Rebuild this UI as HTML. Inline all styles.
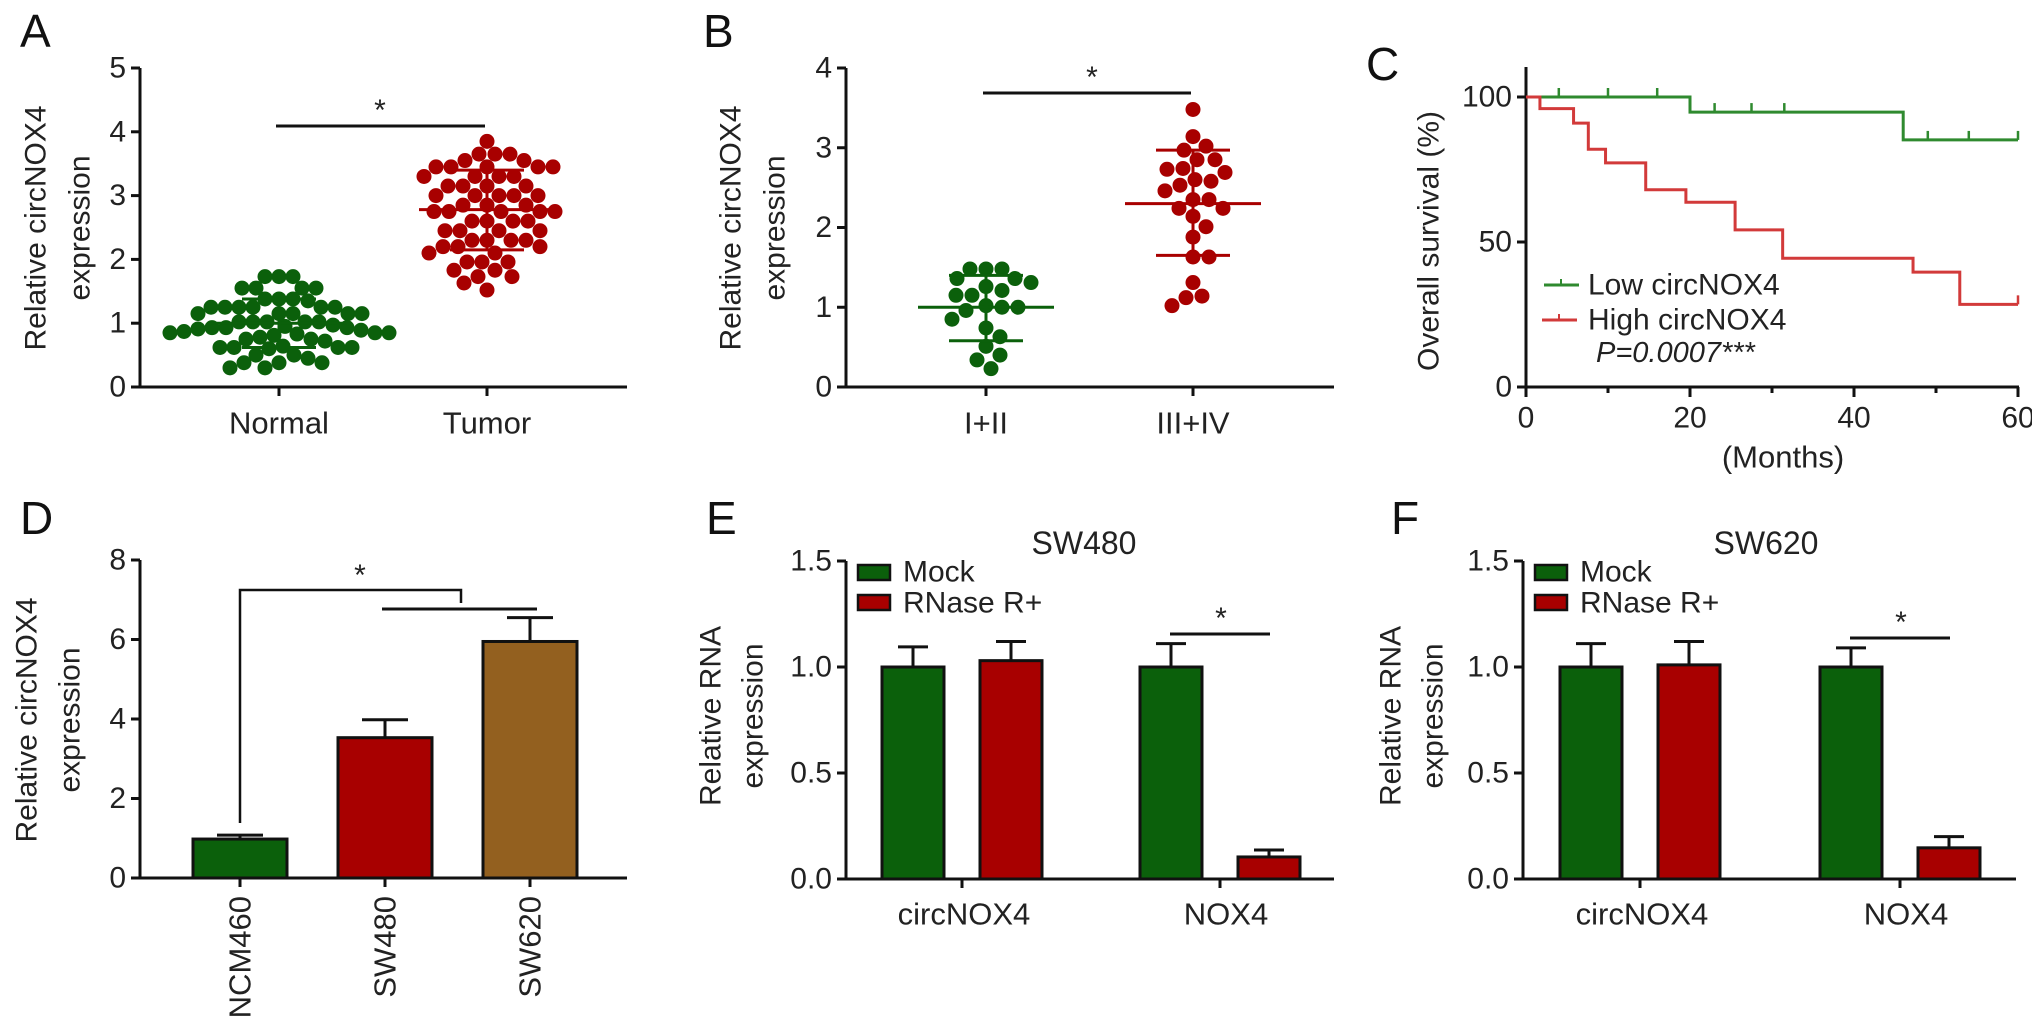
<!DOCTYPE html>
<html><head><meta charset="utf-8">
<style>
html,body{margin:0;padding:0;background:#fff;}
svg{display:block;font-family:"Liberation Sans",Arial,sans-serif;}
</style></head>
<body>
<svg id="fig" width="2032" height="1035" viewBox="0 0 2032 1035" xmlns="http://www.w3.org/2000/svg"></svg>
<script>
// ---------- data ----------
const aCategories = ["Normal", "Tumor"];
const aNormalValues = [1.73,1.73,1.73,1.55,1.55,1.55,1.55,1.38,1.38,1.38,1.35,1.25,1.25,1.25,1.25,1.25,1.25,1.15,1.15,1.15,1.15,1.15,1.02,1.02,1.02,1.02,1.02,0.93,0.95,0.91,0.93,0.89,0.97,0.93,0.85,0.83,0.87,0.85,0.81,0.85,0.75,0.78,0.72,0.75,0.62,0.62,0.64,0.6,0.62,0.62,0.5,0.45,0.5,0.38,0.38,0.38,0.3,0.3];
const aTumorValues = [3.85,3.65,3.65,3.65,3.55,3.55,3.45,3.45,3.45,3.45,3.45,3.3,3.3,3.3,3.3,3.15,3.15,3.15,3.15,3.0,3.0,3.0,3.0,3.0,2.85,2.85,2.85,2.75,2.75,2.75,2.75,2.75,2.6,2.6,2.6,2.6,2.45,2.45,2.45,2.45,2.3,2.3,2.3,2.3,2.2,2.2,2.2,2.1,2.1,1.96,1.96,1.96,1.83,1.83,1.73,1.73,1.63,1.52];
const aMeans = [1.0, 2.78];
const aSdLow = [0.62, 2.15];
const aSdHigh = [1.38, 3.4];
const aTicks = [0,1,2,3,4,5];

const bCategories = ["I+II", "III+IV"];
const bEarlyValues = [1.48,1.48,1.48,1.36,1.36,1.31,1.26,1.21,1.15,1.15,1.02,1.0,1.0,0.96,0.85,0.74,0.63,0.51,0.40,0.34,0.23];
const bLateValues = [3.48,3.14,3.02,2.97,2.85,2.85,2.74,2.73,2.69,2.6,2.58,2.53,2.46,2.35,2.35,2.24,2.24,2.14,2.01,1.88,1.63,1.63,1.31,1.14,1.12,1.02];
const bMeans = [1.0, 2.3];
const bSdLow = [0.58, 1.65];
const bSdHigh = [1.4, 2.97];
const bTicks = [0,1,2,3,4];

const cLowTimes = [0,20,46,60];
const cLowSurv = [100,94.8,85.2,85.2];
const cLowCensor = [4,10,16,23,27.5,31.5,49,54,60];
const cHighTimes = [0,1.7,5.8,7.6,9.7,14.6,19.5,25.5,31.3,47.2,52.9,60];
const cHighSurv = [100,96,91,82,77.3,68,63.7,54.2,44.4,39.6,28.5,28.5];
const cHighCensor = [60];
const cXTicks = [0,20,40,60];
const cXMinor = [10,30,50];
const cYTicks = [0,50,100];

const dCategories = ["NCM460","SW480","SW620"];
const dValues = [0.98, 3.53, 5.95];
const dErrors = [1.08, 3.98, 6.55];
const dTicks = [0,2,4,6,8];

const eCategories = ["circNOX4","NOX4"];
const eMock = [1.0, 1.0];
const eMockErr = [1.095, 1.11];
const eRNase = [1.03, 0.104];
const eRNaseErr = [1.12, 0.137];
const fMock = [1.0, 1.0];
const fMockErr = [1.11, 1.09];
const fRNase = [1.01, 0.147];
const fRNaseErr = [1.12, 0.2];
const rnaTicks = [0.0, 0.5, 1.0, 1.5];

// ---------- helpers ----------
const svg = document.getElementById('fig');
const NS = 'http://www.w3.org/2000/svg';
const GREEN = '#0b600b', RED = '#a80000', BROWN = '#93601f';
function mk(tag, attrs, parent) {
  const e = document.createElementNS(NS, tag);
  for (const k in attrs) e.setAttribute(k, attrs[k]);
  (parent || svg).appendChild(e);
  return e;
}
function txt(str, attrs, parent) {
  const e = mk('text', attrs, parent);
  e.textContent = str;
  return e;
}
function line(x1,y1,x2,y2,stroke,w){
  return mk('line',{x1:x1,y1:y1,x2:x2,y2:y2,stroke:stroke||'#111','stroke-width':w||3});
}

function yAxis(ax, yScale, ticks, fmt, yTopPx, name){
  const a = line(ax, yTopPx, ax, yScale(ticks[0]), '#111', 3);
  
  
  ticks.forEach(t => {
    const tk = line(ax-9, yScale(t), ax, yScale(t), '#111', 3);
    
    
    const lb = txt(fmt(t), {x: ax-14, y: yScale(t), 'font-size': 30, 'text-anchor': 'end', 'dominant-baseline': 'central', fill: '#222'});
    
    
  });
}
function panelLetter(ch, x, y){
  const t = txt(ch, {x:x, y:y, 'font-size': 46, fill:'#111'});
  
  
}
function yTitle(lines, xs, cy, name){
  lines.forEach((s,i) => {
    const t = txt(s, {x:0, y:0, 'font-size': 30, 'text-anchor':'middle', 'dominant-baseline':'central', fill:'#222', transform:'translate(' + xs[i] + ',' + cy + ') rotate(-90)'});
    
    
  });
}
function beeswarm(values, cx, yScale, minDist){
  const placed = [];
  const order = values.map((v,i)=>i).sort((a,b)=>values[b]-values[a]);
  const res = new Array(values.length);
  order.forEach(i => {
    const y = yScale(values[i]);
    let best = cx;
    for (let k = 0; k < 300; k++) {
      const cands = k === 0 ? [0] : [k, -k];
      let found = false;
      for (const off of cands) {
        const x = cx + off;
        if (placed.every(p => (p.x-x)*(p.x-x)+(p.y-y)*(p.y-y) >= minDist*minDist)) { best = x; found = true; break; }
      }
      if (found) break;
    }
    placed.push({x:best, y:y});
    res[i] = {x:best, y:y};
  });
  return res;
}
function scatterGroup(values, cx, yScale, color, mean, lo, hi, name, minDist){
  const r = 7.5;
  const pts = beeswarm(values, cx, yScale, minDist);
  pts.forEach(p => {
    const c = mk('circle', {cx:p.x, cy:p.y, r:r, fill:color});
    
    
  });
  const m = line(cx-68, yScale(mean), cx+68, yScale(mean), color, 3);
  
  
  const v = line(cx, yScale(hi), cx, yScale(lo), color, 3);
  
  
  [lo, hi].forEach(s => {
    const c = line(cx-37, yScale(s), cx+37, yScale(s), color, 3);
    
    
  });
}
function xAxis(x1, x2, y, name){
  const a = line(x1, y, x2, y, '#111', 3);
  
  
}
function xTick(x, y, len, name){
  const t = line(x, y, x, y+len, '#111', 3);
  
  
}
function catLabel(s, x, y, name){
  const t = txt(s, {x:x, y:y, 'font-size':31, 'text-anchor':'middle', 'dominant-baseline':'central', fill:'#222'});
  
  
}
function star(x, y, name){
  const t = txt('*', {x:x, y:y+12, 'font-size':30, 'text-anchor':'middle', fill:'#222'});
  
  
}

// ---------- Panel A ----------
(function(){
  const ax = 140, y0 = 387, per = 63.8;
  const yS = v => y0 - v*per;
  const cats = [279, 487];
  panelLetter('A', 20, 47);
  yTitle(['Relative circNOX4','expression'], [36, 80], 228, 'a');
  yAxis(ax, yS, aTicks, t => String(t), yS(5), 'a');
  xAxis(ax-2, 627, y0, 'a');
  cats.forEach((x,i) => { xTick(x, y0, 9, 'a'); catLabel(aCategories[i], x, 423, 'a'); });
  scatterGroup(aNormalValues, cats[0], yS, GREEN, aMeans[0], aSdLow[0], aSdHigh[0], 'a-normal', 14);
  scatterGroup(aTumorValues, cats[1], yS, RED, aMeans[1], aSdLow[1], aSdHigh[1], 'a-tumor', 15);
  const s = line(276, 126, 485, 126, '#111', 3);
  
  
  star(380, 108, 'a');
})();

// ---------- Panel B ----------
(function(){
  const ax = 846, y0 = 387, per = 79.75;
  const yS = v => y0 - v*per;
  const cats = [986, 1193];
  panelLetter('B', 703, 47);
  yTitle(['Relative circNOX4','expression'], [731, 775], 228, 'b');
  yAxis(ax, yS, bTicks, t => String(t), yS(4), 'b');
  xAxis(ax-2, 1334, y0, 'b');
  cats.forEach((x,i) => { xTick(x, y0, 9, 'b'); catLabel(bCategories[i], x, 423, 'b'); });
  scatterGroup(bEarlyValues, cats[0], yS, GREEN, bMeans[0], bSdLow[0], bSdHigh[0], 'b-early', 16);
  scatterGroup(bLateValues, cats[1], yS, RED, bMeans[1], bSdLow[1], bSdHigh[1], 'b-late', 16);
  const s = line(983, 93, 1191, 93, '#111', 3);
  
  
  star(1092, 75, 'b');
})();

// ---------- Panel C ----------
(function(){
  const ax = 1526, y0 = 387, perPct = 2.9, perM = 8.2;
  const yS = v => y0 - v*perPct;
  const xS = m => ax + m*perM;
  panelLetter('C', 1366, 80);
  yTitle(['Overall survival (%)'], [1429], 241, 'c');
  yAxis(ax, yS, cYTicks, t => String(t), 67, 'c');
  xAxis(ax, xS(60)+1, y0, 'c');
  cXTicks.forEach(t => {
    xTick(xS(t), y0, 10, 'c');
    const l = txt(String(t), {x:xS(t), y:418, 'font-size':30, 'text-anchor':'middle', 'dominant-baseline':'central', fill:'#222'});
    
    
  });
  cXMinor.forEach(t => xTick(xS(t), y0, 6, 'c-minor'));
  const mt = txt('(Months)', {x:1783, y:457, 'font-size':31, 'text-anchor':'middle', 'dominant-baseline':'central', fill:'#222'});
  
  
  function stepPath(times, surv){
    let d = 'M' + xS(times[0]) + ' ' + yS(surv[0]);
    for (let i = 1; i < times.length; i++) {
      d += ' H' + xS(times[i]) + ' V' + yS(surv[i]);
    }
    return d;
  }
  function survAt(times, surv, t){
    let s = surv[0];
    for (let i = 0; i < times.length; i++) if (times[i] <= t) s = surv[i];
    return s;
  }
  const lowP = mk('path', {d: stepPath(cLowTimes, cLowSurv), fill:'none', stroke:'#2f8a2f', 'stroke-width':3});
  
  
  const highP = mk('path', {d: stepPath(cHighTimes, cHighSurv), fill:'none', stroke:'#d23a3a', 'stroke-width':3});
  
  
  cLowCensor.forEach(t => {
    const y = yS(survAt(cLowTimes, cLowSurv, t));
    const c = line(xS(t), y, xS(t), y-9, '#2f8a2f', 2.5);
    
    
  });
  cHighCensor.forEach(t => {
    const y = yS(survAt(cHighTimes, cHighSurv, t));
    const c = line(xS(t), y, xS(t), y-9, '#d23a3a', 2.5);
    
    
  });
  const l1 = line(1544, 285, 1579, 285, '#2f8a2f', 3);
  
  
  const l1t = line(1561, 285, 1561, 279, '#2f8a2f', 2);
  
  
  const t1 = txt('Low circNOX4', {x:1588, y:285, 'font-size':30, 'dominant-baseline':'central', fill:'#222'});
  
  
  const l2 = line(1542, 320, 1577, 320, '#d23a3a', 3);
  
  
  const l2t = line(1559, 320, 1559, 314, '#d23a3a', 2);
  
  
  const t2 = txt('High circNOX4', {x:1588, y:320, 'font-size':30, 'dominant-baseline':'central', fill:'#222'});
  
  
  const t3 = txt('P=0.0007***', {x:1596, y:353, 'font-size':29, 'font-style':'italic', 'dominant-baseline':'central', fill:'#222'});
  
  
})();

// ---------- Panel D ----------
(function(){
  const ax = 140, y0 = 878, per = 39.75;
  const yS = v => y0 - v*per;
  const cats = [240, 385, 530];
  const colors = [GREEN, RED, BROWN];
  panelLetter('D', 20, 534);
  yTitle(['Relative circNOX4','expression'], [27, 70], 720, 'd');
  yAxis(ax, yS, dTicks, t => String(t), yS(8), 'd');
  cats.forEach((x,i) => {
    const b = mk('rect', {x:x-47, y:yS(dValues[i]), width:94, height:y0-yS(dValues[i]), fill:colors[i], stroke:'#111', 'stroke-width':3});
    
    
    const e = line(x, yS(dValues[i]), x, yS(dErrors[i]), '#111', 3);
    
    
    const c = line(x-23, yS(dErrors[i]), x+23, yS(dErrors[i]), '#111', 3);
    
    
    xTick(x, y0, 9, 'd');
    const l = txt(dCategories[i], {x:0, y:0, 'font-size':31, 'text-anchor':'end', 'dominant-baseline':'central', fill:'#222', transform:'translate(' + x + ',896) rotate(-90)'});
    
    
  });
  xAxis(ax-2, 627, y0, 'd');
  const br = mk('path', {d:'M240 823 V590 H461 V603', fill:'none', stroke:'#111', 'stroke-width':2.5});
  
  
  const s2 = line(382, 609, 537, 609, '#111', 3);
  
  
  star(360, 573, 'd');
})();

// ---------- Panels E & F ----------
function rnaPanel(p){
  const yS = v => p.y0 - v/0.5*106;
  panelLetter(p.letter, p.lx, 534);
  yTitle(['Relative RNA','expression'], p.titleX, 716, p.id);
  yAxis(p.ax, yS, rnaTicks, t => t.toFixed(1), yS(1.5), p.id);
  xAxis(p.ax-2, p.xEnd, p.y0, p.id);
  const ttl = txt(p.title, {x:p.titleCx, y:543, 'font-size':32, 'text-anchor':'middle', 'dominant-baseline':'central', fill:'#222'});
  
  
  eCategories.forEach((cat, i) => {
    const gx = p.ticks[i];
    xTick(gx, p.y0, 9, p.id);
    catLabel(cat, gx + (i === 1 ? 6 : 2), 914, p.id);
    [[p.mock, p.mockErr, GREEN, -49, 'mock'], [p.rnase, p.rnaseErr, RED, 49, 'rnase']].forEach(s => {
      const cx = gx + s[3];
      const v = s[0][i], er = s[1][i];
      const b = mk('rect', {x:cx-31, y:yS(v), width:62, height:p.y0-yS(v), fill:s[2], stroke:'#111', 'stroke-width':3});
      
      
      const e = line(cx, yS(v), cx, yS(er), '#111', 3);
      
      
      const c = line(cx-15, yS(er), cx+15, yS(er), '#111', 3);
      
      
    });
  });
  const lx = p.ax + 12;
  const b1 = mk('rect', {x:lx, y:565, width:32, height:15, fill:GREEN, stroke:'#111', 'stroke-width':2.5});
  
  
  const t1 = txt('Mock', {x:lx+45, y:572, 'font-size':30, 'dominant-baseline':'central', fill:'#222'});
  
  
  const b2 = mk('rect', {x:lx, y:595, width:32, height:15, fill:RED, stroke:'#111', 'stroke-width':2.5});
  
  
  const t2 = txt('RNase R+', {x:lx+45, y:603, 'font-size':30, 'dominant-baseline':'central', fill:'#222'});
  
  
  const sl = line(p.ticks[1]-50, p.sigY, p.ticks[1]+50, p.sigY, '#111', 3);
  
  
  star(p.ticks[1]+1, p.sigY-18, p.id);
}
rnaPanel({id:'e', letter:'E', lx:706, ax:846, y0:879, xEnd:1334, ticks:[962,1220], titleX:[711,753], title:'SW480', titleCx:1084, mock:eMock, mockErr:eMockErr, rnase:eRNase, rnaseErr:eRNaseErr, sigY:634});
rnaPanel({id:'f', letter:'F', lx:1391, ax:1523, y0:879, xEnd:2016, ticks:[1640,1900], titleX:[1391,1433], title:'SW620', titleCx:1766, mock:fMock, mockErr:fMockErr, rnase:fRNase, rnaseErr:fRNaseErr, sigY:638});
</script>
</body></html>
